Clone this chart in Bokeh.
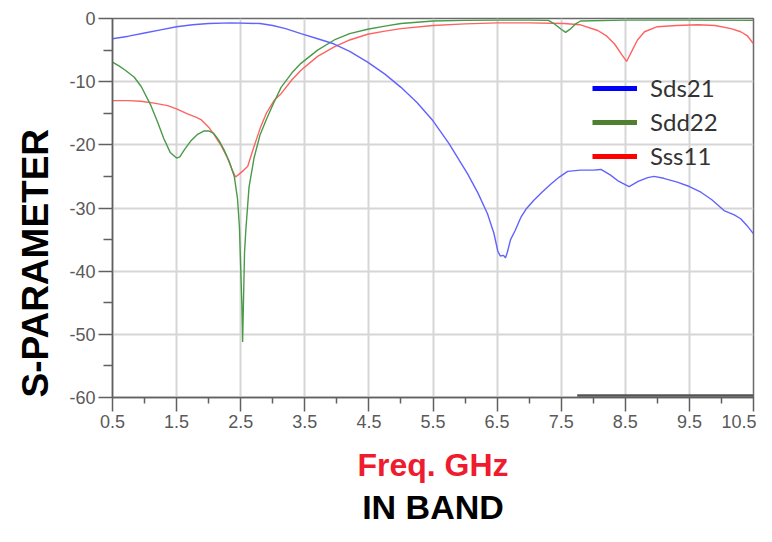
import math
from bokeh.plotting import figure
from bokeh.models import Range1d, FixedTicker, Legend, LegendItem, Title
from bokeh.embed import file_html
from bokeh.resources import INLINE

# ---- data (frequency in GHz, S-parameters in dB) ----
sds21_f = [0.5, 0.75, 1.0, 1.25, 1.5, 1.75, 2.0, 2.35, 2.8, 3.0, 3.2, 3.44, 3.7, 3.95,
           4.2, 4.48, 4.75, 5.0, 5.25, 5.5, 5.75, 6.04, 6.2, 6.35, 6.45, 6.51, 6.55,
           6.6, 6.63, 6.66, 6.71, 6.78, 6.87, 6.95, 7.07, 7.2, 7.34, 7.47, 7.6, 7.8,
           8.0, 8.12, 8.27, 8.4, 8.56, 8.7, 8.85, 8.95, 9.1, 9.31, 9.5, 9.68, 9.85,
           10.04, 10.2, 10.3, 10.4, 10.5]
sds21_db = [-3.2, -2.8, -2.3, -1.8, -1.3, -1.0, -0.8, -0.7, -0.8, -1.1, -1.6, -2.4, -3.2, -4.0,
            -5.2, -6.9, -8.8, -10.9, -13.3, -16.2, -19.8, -24.6, -27.6, -30.9, -34.0, -36.8, -37.6,
            -37.5, -37.9, -37.0, -35.0, -33.6, -31.5, -30.2, -28.8, -27.5, -26.2, -25.1, -24.2, -24.0,
            -24.0, -23.9, -24.8, -25.8, -26.6, -25.8, -25.2, -25.0, -25.3, -25.9, -26.6, -27.5, -28.7,
            -30.4, -31.1, -31.7, -32.8, -34.1]

sdd22_f = [0.5, 0.6, 0.7, 0.84, 0.95, 1.1, 1.2, 1.3, 1.4, 1.5, 1.55, 1.62, 1.72, 1.82, 1.93,
           2.0, 2.08, 2.16, 2.24, 2.32, 2.4, 2.45, 2.48, 2.5, 2.52, 2.53, 2.545, 2.56, 2.58,
           2.63, 2.71, 2.8, 2.9, 3.0, 3.13, 3.3, 3.44, 3.7, 3.96, 4.2, 4.48, 4.75, 5.0, 5.5,
           6.0, 6.5, 7.0, 7.3, 7.4, 7.5, 7.57, 7.65, 7.72, 7.8, 8.5, 9.5, 10.5]
sdd22_db = [-6.9, -7.5, -8.2, -9.3, -10.8, -13.8, -16.3, -19.0, -21.2, -22.1, -21.9, -20.8, -19.4, -18.4, -17.8,
            -17.8, -18.2, -19.3, -20.8, -22.6, -25.0, -28.5, -33.0, -39.4, -46.0, -51.2, -44.0, -37.0, -33.5,
            -26.7, -22.0, -18.5, -16.0, -13.7, -10.9, -8.6, -7.1, -5.0, -3.4, -2.4, -1.7, -1.2, -0.8, -0.4,
            -0.3, -0.25, -0.25, -0.3, -0.9, -1.7, -2.2, -1.6, -0.9, -0.4, -0.25, -0.25, -0.3]

sss11_f = [0.5, 0.75, 0.94, 1.15, 1.36, 1.5, 1.67, 1.8, 1.88, 2.0, 2.08, 2.2, 2.29, 2.36, 2.42,
           2.48, 2.55, 2.61, 2.7, 2.81, 2.9, 3.02, 3.13, 3.3, 3.44, 3.7, 3.96, 4.2, 4.48, 4.75,
           5.0, 5.5, 6.0, 6.5, 7.0, 7.54, 7.8, 8.07, 8.2, 8.33, 8.45, 8.52, 8.6, 8.69, 8.8,
           9.0, 9.3, 9.63, 9.9, 10.15, 10.3, 10.4, 10.5]
sss11_db = [-13.0, -13.0, -13.1, -13.4, -13.8, -14.3, -15.1, -15.6, -16.0, -17.2, -18.3, -20.2, -22.0, -23.8, -25.1,
            -24.6, -24.0, -23.4, -20.5, -17.2, -15.0, -13.0, -11.9, -9.7, -8.2, -6.0, -4.5, -3.4, -2.5, -2.0,
            -1.6, -1.1, -0.85, -0.7, -0.7, -0.8, -1.0, -1.9, -2.7, -4.0, -5.8, -6.8, -5.2, -3.4, -2.1,
            -1.3, -1.1, -1.0, -1.1, -1.6, -2.1, -2.7, -4.0]

# dark trace lying on the bottom edge (right part)
floor_f = [7.75, 10.5]
floor_db = [-59.7, -59.7]

x_ticks = [0.5, 1.5, 2.5, 3.5, 4.5, 5.5, 6.5, 7.5, 8.5, 9.5, 10.5]
x_tick_labels = ["0.5", "1.5", "2.5", "3.5", "4.5", "5.5", "6.5", "7.5", "8.5", "9.5", "10.5"]
x_minor = [1.0, 2.0, 3.0, 4.0, 5.0, 6.0, 7.0, 8.0, 9.0, 10.0]
y_ticks = [-60, -50, -40, -30, -20, -10, 0]
y_tick_labels = ["-60", "-50", "-40", "-30", "-20", "-10", "0"]
y_minor = [-55, -45, -35, -25, -15, -5]

series_names = ["Sds21", "Sdd22", "Sss11"]

# ---- figure ----
p = figure(width=756, height=526, output_backend="svg", toolbar_location=None,
           x_range=Range1d(0.5, 10.5), y_range=Range1d(-60, 0),
           min_border_left=112, min_border_right=3, min_border_top=18, min_border_bottom=129)
p.background_fill_color = "white"
p.border_fill_color = "white"
p.outline_line_color = "#6a6a6a"
p.outline_line_width = 1.5

tick_font = "Liberation Sans Narrow, Liberation Sans, sans-serif"
for ax, tk, lb, mn in ((p.xaxis[0], x_ticks, x_tick_labels, x_minor),
                       (p.yaxis[0], y_ticks, y_tick_labels, y_minor)):
    ax.ticker = FixedTicker(ticks=tk, minor_ticks=mn)
    ax.major_label_overrides = dict(zip(tk, lb))
    ax.axis_line_color = "#606060"
    ax.axis_line_width = 1.5
    ax.major_tick_line_color = "#606060"
    ax.major_tick_line_width = 1.5
    ax.minor_tick_line_color = "#606060"
    ax.minor_tick_line_width = 1.5
    ax.major_tick_in = 0
    ax.major_tick_out = 14
    ax.minor_tick_in = 0
    ax.minor_tick_out = 6
    ax.major_label_text_font = tick_font
    ax.major_label_text_font_size = "18px"
    ax.major_label_text_color = "#5a5a5a"
p.xaxis.major_label_standoff = 3
p.yaxis.major_label_standoff = 3
p.yaxis.minor_tick_out = 9

p.xaxis.axis_label = "Freq. GHz"
p.xaxis.axis_label_text_font = "Liberation Sans"
p.xaxis.axis_label_text_font_style = "bold"
p.xaxis.axis_label_text_font_size = "32px"
p.xaxis.axis_label_text_color = "#ee1c2e"
p.xaxis.axis_label_standoff = 16

p.xgrid.ticker = FixedTicker(ticks=x_ticks)
p.ygrid.ticker = FixedTicker(ticks=y_ticks)
p.grid.grid_line_color = "#d6d6d6"
p.grid.grid_line_width = 2

# curves
p.line(sss11_f, sss11_db, line_color="#ff6262", line_width=1.4)
p.line(sdd22_f, sdd22_db, line_color="#4a9a4a", line_width=1.4)
p.line(sds21_f, sds21_db, line_color="#6262ff", line_width=1.4)
p.line(floor_f, floor_db, line_color="#555555", line_width=2.5)

# legend swatches (thicker than the traces, as in the original)
leg_colors = ["#0000ff", "#4f7f30", "#ff0000"]
items = []
for name, col in zip(series_names, leg_colors):
    r = p.line(x=[math.nan], y=[math.nan], line_color=col, line_width=5)
    items.append(LegendItem(label=name, renderers=[r]))
legend = Legend(items=items, location=(480, 227), padding=0, margin=0, spacing=5,
                glyph_width=45, glyph_height=24, label_height=24, label_standoff=13,
                label_text_font="Lato", label_text_font_size="24px", label_text_color="#333333",
                background_fill_alpha=0, border_line_alpha=0)
p.add_layout(legend, "center")

# titles
p.add_layout(Title(text="S-PARAMETER", align="left", offset=0, standoff=17,
                   vertical_align="top",
                   text_font="Liberation Sans", text_font_style="bold", text_font_size="37px",
                   text_color="black"), "left")
p.add_layout(Title(text="IN BAND", align="center", offset=9, standoff=0,
                   text_font="Liberation Sans", text_font_style="bold", text_font_size="34px",
                   text_color="black"), "below")

open("out.html", "w").write(file_html(p, INLINE))
